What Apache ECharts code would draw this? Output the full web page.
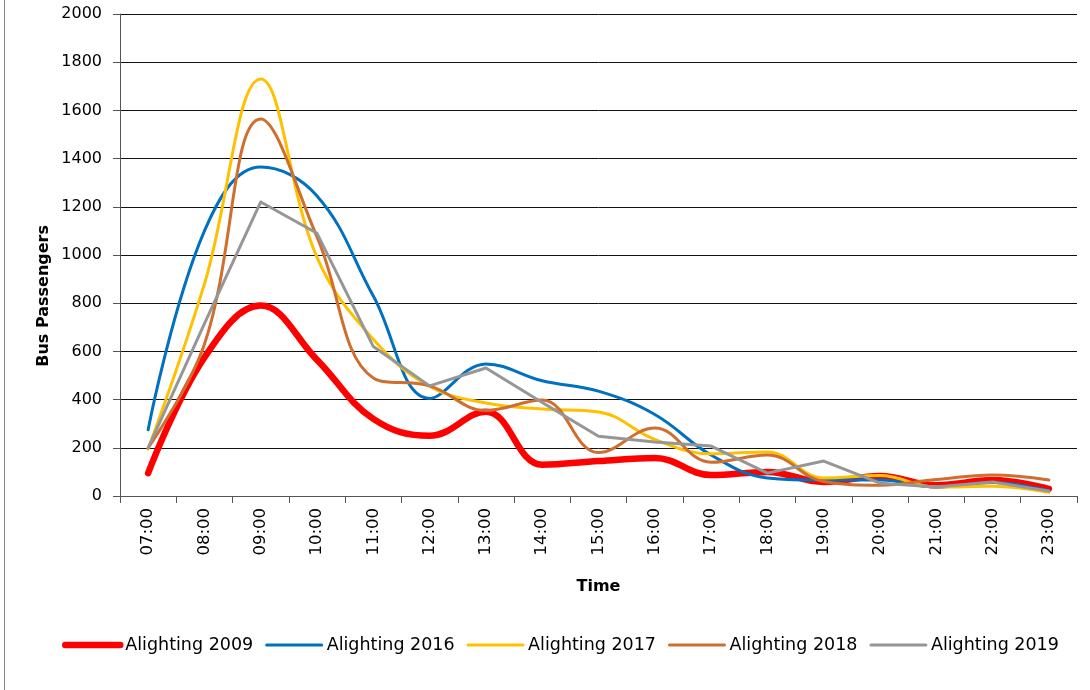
<!DOCTYPE html>
<html>
<head>
<meta charset="utf-8">
<script src="https://cdn.jsdelivr.net/npm/echarts@6/dist/echarts.min.js"></script>
<style>
html,body{margin:0;padding:0;background:#fff;}
#chart{width:1090px;height:690px;}
</style>
</head>
<body>
<div id="chart"></div>
<script>
const categories = ['07:00','08:00','09:00','10:00','11:00','12:00','13:00','14:00','15:00','16:00','17:00','18:00','19:00','20:00','21:00','22:00','23:00'];
const alighting2009 = [95, 575, 790, 565, 320, 250, 350, 130, 145, 158, 87, 100, 58, 83, 45, 66, 29];
const alighting2016 = [275, 1100, 1365, 1245, 830, 405, 548, 478, 435, 338, 170, 75, 66, 66, 37, 56, 22];
const alighting2017 = [195, 880, 1730, 990, 650, 455, 386, 361, 349, 235, 175, 183, 75, 85, 37, 40, 15];
const alighting2018 = [200, 630, 1564, 1075, 490, 457, 355, 398, 180, 282, 140, 170, 60, 45, 68, 87, 66];
const alighting2019 = [200, 715, 1220, 1090, 620, 457, 531, 388, 248, 224, 207, 95, 145, 53, 37, 58, 21];
const yTicks = {min: 0, max: 2000, interval: 200};

const font = 'DejaVu Sans';
const chart = echarts.init(document.getElementById('chart'), null, {renderer: 'canvas'});

function mk(name, data, color, width, smooth) {
  return {
    name: name, type: 'line', data: data, smooth: smooth, symbol: 'none',
    lineStyle: {color: color, width: width, cap: 'round', join: 'round'},
    itemStyle: {color: color},
    emphasis: {disabled: true}
  };
}

chart.setOption({
  animation: false,
  backgroundColor: '#fff',
  grid: {left: 120, right: 13, top: 14, bottom: 194, containLabel: false},
  xAxis: {
    type: 'category', data: categories, boundaryGap: true,
    name: 'Time', nameLocation: 'middle', nameGap: 83,
    nameTextStyle: {fontFamily: font, fontWeight: 'bold', fontSize: 16, color: '#000'},
    axisLine: {lineStyle: {color: '#555', width: 1}},
    axisTick: {show: true, length: 7, lineStyle: {color: '#555'}},
    axisLabel: {rotate: 90, margin: 12, fontFamily: font, fontSize: 16.5, color: '#000'}
  },
  yAxis: {
    type: 'value', min: yTicks.min, max: yTicks.max, interval: yTicks.interval,
    axisLine: {show: true, lineStyle: {color: '#555', width: 1}},
    axisTick: {show: true, length: 7, inside: false, lineStyle: {color: '#555'}},
    axisLabel: {margin: 18, fontFamily: font, fontSize: 16, color: '#000',
      formatter: function (v) { return String(v); }},
    splitLine: {show: true, lineStyle: {color: '#111', width: 1}}
  },
  legend: {
    top: 631, left: 57, orient: 'horizontal',
    itemWidth: 55, itemHeight: 14, itemGap: 12,
    lineStyle: {width: 'inherit', cap: 'round'},
    itemStyle: {opacity: 0},
    textStyle: {fontFamily: font, fontSize: 17.5, color: '#000'},
    data: ['Alighting 2009','Alighting 2016','Alighting 2017','Alighting 2018','Alighting 2019']
  },
  graphic: [
    {type: 'line', shape: {x1: 4.5, y1: 0, x2: 4.5, y2: 690}, style: {stroke: '#888', lineWidth: 1}},
    {type: 'text', left: 36, top: 225, rotation: Math.PI/2,
     style: {text: 'Bus Passengers', font: 'bold 16px "DejaVu Sans"', fill: '#000'}}
  ],
  series: [
    mk('Alighting 2009', alighting2009, '#FF0000', 6.5, 0.4),
    mk('Alighting 2016', alighting2016, '#0070C0', 3, 0.4),
    mk('Alighting 2017', alighting2017, '#FFC000', 3, 0.4),
    mk('Alighting 2018', alighting2018, '#CF6E2D', 3, 0.4),
    mk('Alighting 2019', alighting2019, '#969696', 3, false)
  ]
});
</script>
</body>
</html>
